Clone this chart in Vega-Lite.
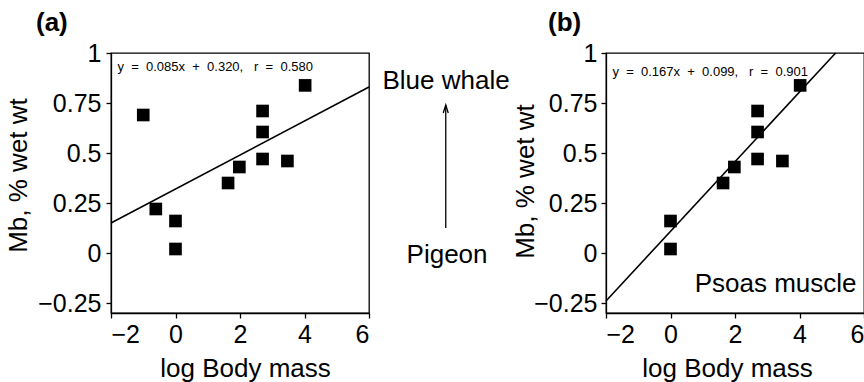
{
  "$schema": "https://vega.github.io/schema/vega-lite/v6.json",
  "autosize": {"type": "none"},
  "padding": {"left": 111, "top": 53, "right": 753, "bottom": 329},
  "background": "white",
  "bounds": "flush",
  "spacing": 237,
  "config": {
    "font": "Liberation Sans",
    "view": {"stroke": "black", "strokeWidth": 1.3},
    "axis": {
      "grid": false,
      "domainColor": "black",
      "domainWidth": 1.3,
      "tickColor": "black",
      "tickWidth": 1.3,
      "tickSize": 5,
      "labelColor": "black",
      "labelFont": "Liberation Sans",
      "labelFontSize": 25,
      "titleColor": "black",
      "titleFont": "Liberation Sans",
      "titleFontSize": 26,
      "titleFontWeight": "normal",
      "format": ".2~f"
    },
    "title": {"font": "Liberation Sans", "fontSize": 26, "fontWeight": "bold", "color": "black"}
  },
  "datasets": {
    "ptsA": [
      {"x": -1.0, "y": 0.69},
      {"x": -0.61, "y": 0.22},
      {"x": 0.0, "y": 0.16},
      {"x": 0.0, "y": 0.02},
      {"x": 1.63, "y": 0.35},
      {"x": 1.98, "y": 0.43},
      {"x": 2.7, "y": 0.71},
      {"x": 2.7, "y": 0.605},
      {"x": 2.7, "y": 0.47},
      {"x": 3.47, "y": 0.46},
      {"x": 4.02, "y": 0.838}
    ],
    "ptsB": [
      {"x": 0.0, "y": 0.16},
      {"x": 0.0, "y": 0.02},
      {"x": 1.63, "y": 0.35},
      {"x": 1.98, "y": 0.43},
      {"x": 2.7, "y": 0.71},
      {"x": 2.7, "y": 0.605},
      {"x": 2.7, "y": 0.47},
      {"x": 3.47, "y": 0.46},
      {"x": 4.02, "y": 0.838}
    ],
    "lineA": [{"x": -2, "y": 0.15}, {"x": 6, "y": 0.83}],
    "lineB": [{"x": -2, "y": -0.24}, {"x": 5.12, "y": 1.0}],
    "eqA": [{"x": -1.8, "y": 0.928, "label": "y\u00a0\u00a0=\u00a0\u00a00.085x\u00a0\u00a0+\u00a0\u00a00.320,\u00a0\u00a0\u00a0r\u00a0\u00a0=\u00a0\u00a00.580"}],
    "eqB": [{"x": -1.8, "y": 0.905, "label": "y\u00a0\u00a0=\u00a0\u00a00.167x\u00a0\u00a0+\u00a0\u00a00.099,\u00a0\u00a0\u00a0r\u00a0\u00a0=\u00a0\u00a00.901"}],
    "notesA": [
      {"x": 8.39, "y": 0.86, "label": "Blue whale"},
      {"x": 8.42, "y": -0.01, "label": "Pigeon"}
    ],
    "arrow": [{"x": 8.38, "y": 0.125, "y2": 0.74}],
    "notesB": [{"x": 0.75, "y": -0.155, "label": "Psoas muscle"}]
  },
  "hconcat": [
    {
      "width": 258,
      "height": 260,
      "title": {"text": "(a)", "anchor": "start", "frame": "group", "dx": -75, "offset": 5},
      "layer": [
        {
          "data": {"name": "lineA"},
          "mark": {"type": "line", "color": "black", "strokeWidth": 1.6},
          "encoding": {
            "x": {"field": "x", "type": "quantitative", "scale": {"domain": [-2, 6]},
                  "axis": {"values": [-2, 0, 2, 4, 6], "title": "log Body mass", "titleX": 134, "titlePadding": 8, "labelPadding": 4}},
            "y": {"field": "y", "type": "quantitative", "scale": {"domain": [-0.25, 1]},
                  "axis": {"values": [-0.25, 0, 0.25, 0.5, 0.75, 1], "title": "Mb, % wet wt", "titleX": -93, "titleY": 122, "titleBaseline": "middle", "labelPadding": 5}}
          }
        },
        {
          "data": {"name": "ptsA"},
          "mark": {"type": "point", "shape": "square", "filled": true, "color": "black", "opacity": 1, "size": 160},
          "encoding": {
            "x": {"field": "x", "type": "quantitative"},
            "y": {"field": "y", "type": "quantitative"}
          }
        },
        {
          "data": {"name": "eqA"},
          "mark": {"type": "text", "align": "left", "baseline": "middle", "fontSize": 13, "color": "black", "font": "Liberation Sans"},
          "encoding": {
            "x": {"field": "x", "type": "quantitative"},
            "y": {"field": "y", "type": "quantitative"},
            "text": {"field": "label"}
          }
        },
        {
          "data": {"name": "notesA"},
          "mark": {"type": "text", "align": "center", "baseline": "middle", "fontSize": 26, "color": "black", "font": "Liberation Sans"},
          "encoding": {
            "x": {"field": "x", "type": "quantitative"},
            "y": {"field": "y", "type": "quantitative"},
            "text": {"field": "label"}
          }
        },
        {
          "data": {"name": "arrow"},
          "mark": {"type": "rule", "color": "black", "strokeWidth": 1.3},
          "encoding": {
            "x": {"field": "x", "type": "quantitative"},
            "y": {"field": "y", "type": "quantitative"},
            "y2": {"field": "y2"}
          }
        },
        {
          "data": {"name": "arrow"},
          "mark": {"type": "point", "shape": "M-0.5,1.6L0,0L0.5,1.6", "filled": false, "color": "black", "strokeWidth": 1.3, "opacity": 1, "size": 100},
          "encoding": {
            "x": {"field": "x", "type": "quantitative"},
            "y": {"field": "y2", "type": "quantitative"}
          }
        }
      ]
    },
    {
      "width": 258,
      "height": 260,
      "title": {"text": "(b)", "anchor": "start", "frame": "group", "dx": -58, "offset": 5},
      "layer": [
        {
          "data": {"name": "lineB"},
          "mark": {"type": "line", "color": "black", "strokeWidth": 1.6},
          "encoding": {
            "x": {"field": "x", "type": "quantitative", "scale": {"domain": [-2, 6]},
                  "axis": {"values": [-2, 0, 2, 4, 6], "title": "log Body mass", "titleX": 121, "titlePadding": 8, "labelPadding": 4}},
            "y": {"field": "y", "type": "quantitative", "scale": {"domain": [-0.25, 1]},
                  "axis": {"values": [-0.25, 0, 0.25, 0.5, 0.75, 1], "title": "Mb, % wet wt", "titleX": -81, "titleY": 128, "titleBaseline": "middle", "labelPadding": 4}}
          }
        },
        {
          "data": {"name": "ptsB"},
          "mark": {"type": "point", "shape": "square", "filled": true, "color": "black", "opacity": 1, "size": 160},
          "encoding": {
            "x": {"field": "x", "type": "quantitative"},
            "y": {"field": "y", "type": "quantitative"}
          }
        },
        {
          "data": {"name": "eqB"},
          "mark": {"type": "text", "align": "left", "baseline": "middle", "fontSize": 13, "color": "black", "font": "Liberation Sans"},
          "encoding": {
            "x": {"field": "x", "type": "quantitative"},
            "y": {"field": "y", "type": "quantitative"},
            "text": {"field": "label"}
          }
        },
        {
          "data": {"name": "notesB"},
          "mark": {"type": "text", "align": "left", "baseline": "middle", "fontSize": 26, "color": "black", "font": "Liberation Sans"},
          "encoding": {
            "x": {"field": "x", "type": "quantitative"},
            "y": {"field": "y", "type": "quantitative"},
            "text": {"field": "label"}
          }
        }
      ]
    }
  ]
}
